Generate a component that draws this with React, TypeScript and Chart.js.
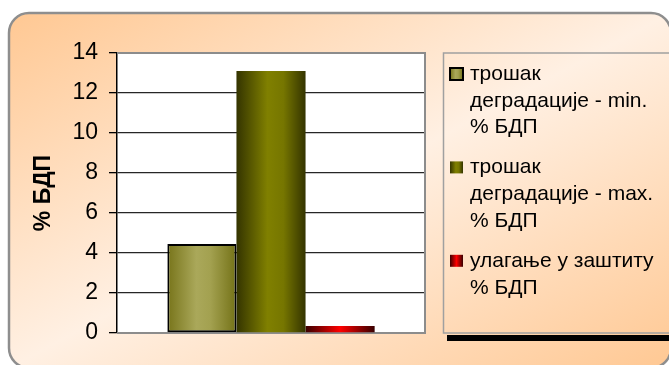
import React, { useEffect, useRef } from 'react';
import { Chart, registerables } from 'chart.js';

Chart.register(...registerables);

// ---- data ----
const categories: string[] = [''];
const seriesLegendLines: string[][] = [
  ['трошак', 'деградације - min.', '% БДП'],
  ['трошак', 'деградације - max.', '% БДП'],
  ['улагање у заштиту', '% БДП'],
];
const seriesMin: number[] = [4.45];
const seriesMax: number[] = [13.1];
const seriesInvest: number[] = [0.35];
const yTickValues: number[] = [0, 2, 4, 6, 8, 10, 12, 14];
const yAxisTitle = '% БДП';

// ---- styles ----
const FONT = '"Liberation Sans", Arial, Helvetica, sans-serif';
const seriesGradients: [number, string][][] = [
  [[0, '#77741a'], [0.42, '#aaa85a'], [0.62, '#a3a150'], [1, '#747217']],
  [[0, '#343400'], [0.45, '#808000'], [0.68, '#767600'], [1, '#343400']],
  [[0, '#380000'], [0.5, '#ff0000'], [1, '#380000']],
];

function makeGrad(ctx: CanvasRenderingContext2D, left: number, right: number, stops: [number, string][]) {
  const g = ctx.createLinearGradient(left, 0, right, 0);
  stops.forEach(([o, c]) => g.addColorStop(o, c));
  return g;
}

function roundRectPath(ctx: CanvasRenderingContext2D, x: number, y: number, w: number, h: number, r: number) {
  ctx.beginPath();
  ctx.moveTo(x + r, y);
  ctx.lineTo(x + w - r, y);
  ctx.arcTo(x + w, y, x + w, y + r, r);
  ctx.lineTo(x + w, y + h - r);
  ctx.arcTo(x + w, y + h, x + w - r, y + h, r);
  ctx.lineTo(x + r, y + h);
  ctx.arcTo(x, y + h, x, y + h - r, r);
  ctx.lineTo(x, y + r);
  ctx.arcTo(x, y, x + r, y, r);
  ctx.closePath();
}

const decorPlugin = {
  id: 'decor',
  beforeDraw(chart: any) {
    const { ctx, chartArea: a } = chart;
    ctx.save();
    const x0 = 9, y0 = 13, x1 = 671, y1 = 368;
    const w = x1 - x0, h = y1 - y0;
    const f = (2 * w * h) / (w * w + h * h);
    const g = ctx.createLinearGradient(x0, y0, x0 + h * f, y0 + w * f);
    g.addColorStop(0, '#ffc893');
    g.addColorStop(0.5, '#fff0e3');
    g.addColorStop(1, '#ffc893');
    roundRectPath(ctx, x0, y0, w, h, 20);
    ctx.fillStyle = g;
    ctx.fill();
    ctx.lineWidth = 2.5;
    ctx.strokeStyle = '#8e8e8e';
    ctx.stroke();
    ctx.fillStyle = '#ffffff';
    ctx.fillRect(a.left, a.top, a.right - a.left, a.bottom - a.top);
    ctx.restore();
  },
  beforeDatasetsDraw(chart: any) {
    const { ctx, chartArea: a } = chart;
    ctx.save();
    ctx.strokeStyle = '#8c8c8c';
    ctx.lineWidth = 2;
    ctx.beginPath();
    ctx.moveTo(a.left, a.top);
    ctx.lineTo(a.right, a.top);
    ctx.lineTo(a.right, a.bottom);
    ctx.lineTo(a.left, a.bottom);
    ctx.stroke();
    ctx.restore();
    chart.data.datasets.forEach((_ds: any, di: number) => {
      const meta = chart.getDatasetMeta(di);
      meta.data.forEach((el: any) => {
        const { x, width } = el.getProps(['x', 'width'], true);
        const grad = makeGrad(ctx, x - width / 2, x + width / 2, seriesGradients[di]);
        el.options = Object.assign({}, el.options, { backgroundColor: grad });
      });
    });
  },
  afterDraw(chart: any) {
    const { ctx, chartArea: a } = chart;
    ctx.save();
    const lx = a.right + 18;
    ctx.strokeStyle = '#a0a0a0';
    ctx.lineWidth = 1.5;
    ctx.strokeRect(lx + 0.5, a.top, 260, a.bottom - a.top);
    ctx.fillStyle = '#000';
    ctx.fillRect(lx + 4, a.bottom + 2, 260, 6);
    ctx.font = `21px ${FONT}`;
    ctx.textBaseline = 'alphabetic';
    ctx.textAlign = 'left';
    let y = a.top + 27;
    seriesLegendLines.forEach((lines, i) => {
      const mx = lx + 7;
      ctx.fillStyle = makeGrad(ctx, mx, mx + 13, seriesGradients[i]);
      ctx.fillRect(mx, y - 12, 13, 12);
      if (i === 0) {
        ctx.strokeStyle = '#000';
        ctx.lineWidth = 2;
        ctx.strokeRect(mx, y - 12, 13, 12);
      }
      ctx.fillStyle = '#000';
      lines.forEach((line) => {
        ctx.fillText(line, lx + 27, y);
        y += 26.7;
      });
      y += 13.3;
    });
    ctx.restore();
  },
};

export default function App() {
  const ref = useRef<HTMLCanvasElement | null>(null);
  useEffect(() => {
    if (!ref.current) return;
    const chart = new Chart(ref.current, {
      type: 'bar',
      data: {
        labels: categories,
        datasets: [
          { label: seriesLegendLines[0].join(' '), data: seriesMin, borderColor: '#000', borderWidth: 2, borderSkipped: false },
          { label: seriesLegendLines[1].join(' '), data: seriesMax, borderWidth: 0 },
          { label: seriesLegendLines[2].join(' '), data: seriesInvest, borderWidth: 0 },
        ],
      },
      options: {
        responsive: false,
        animation: false,
        events: [],
        layout: { padding: { left: 10, top: 53, right: 244, bottom: 32 } },
        datasets: { bar: { categoryPercentage: 0.673, barPercentage: 1.0 } },
        plugins: { legend: { display: false }, tooltip: { enabled: false }, title: { display: false } },
        scales: {
          x: { display: false },
          y: {
            min: 0,
            max: 14,
            afterBuildTicks: (scale: any) => {
              scale.ticks = yTickValues.map((v) => ({ value: v }));
            },
            afterFit: (scale: any) => {
              scale.width = 107;
            },
            ticks: {
              color: '#000',
              padding: 11,
              font: { family: FONT, size: 23 },
            },
            grid: {
              color: (c: any) => (c.tick && (c.tick.value === 0 || c.tick.value === 14) ? 'rgba(0,0,0,0)' : '#262626'),
              lineWidth: 1.3,
              tickColor: '#000',
              tickLength: 8,
              tickWidth: 1.3,
            },
            border: { display: true, color: '#000', width: 1.5 },
            title: {
              display: true,
              text: yAxisTitle,
              color: '#000',
              padding: { top: 20, bottom: 0 },
              font: { family: FONT, size: 23, weight: 'bold' },
            },
          },
        },
      },
      plugins: [decorPlugin],
    } as any);
    return () => chart.destroy();
  }, []);
  return (
    <div style={{ position: 'fixed', left: 0, top: 0, width: 669, height: 365 }}>
      <canvas ref={ref} width={669} height={365} style={{ display: 'block', width: 669, height: 365 }} />
    </div>
  );
}
